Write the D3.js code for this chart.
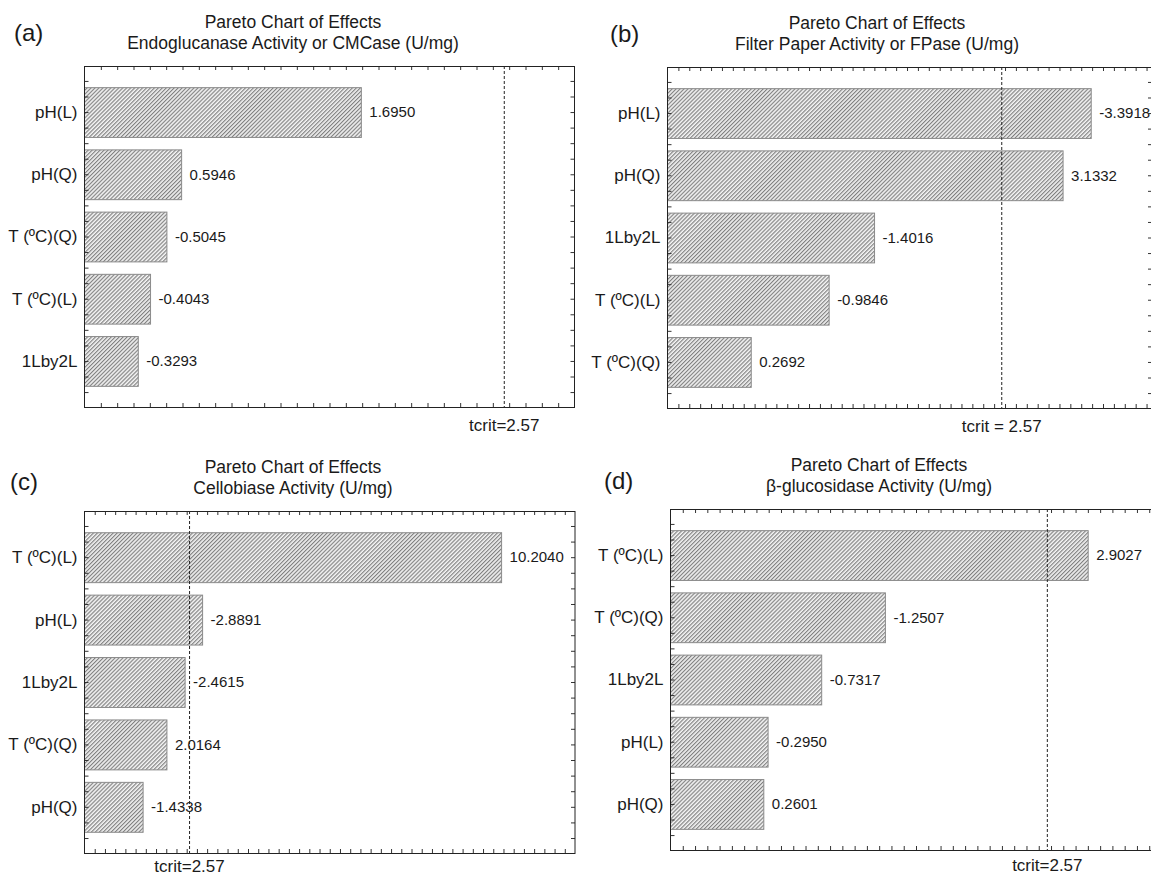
<!DOCTYPE html>
<html>
<head>
<meta charset="utf-8">
<script src="https://cdn.jsdelivr.net/npm/d3@7"></script>
<style>
  html, body { margin: 0; padding: 0; background: #fff; }
  svg { display: block; font-family: Arial, "Liberation Sans", sans-serif; }
</style>
</head>
<body>
<svg id="chart" width="1151" height="875"></svg>
<script>
// ---------------- DATA ----------------
const panelTags = ["(a)", "(b)", "(c)", "(d)"];
const titleLine1 = ["Pareto Chart of Effects", "Pareto Chart of Effects", "Pareto Chart of Effects", "Pareto Chart of Effects"];
const titleLine2 = [
  "Endoglucanase Activity or CMCase (U/mg)",
  "Filter Paper Activity or FPase (U/mg)",
  "Cellobiase Activity (U/mg)",
  "β-glucosidase Activity (U/mg)"
];

const catsA = ["pH(L)", "pH(Q)", "T (ºC)(Q)", "T (ºC)(L)", "1Lby2L"];
const valsA = [1.6950, 0.5946, -0.5045, -0.4043, -0.3293];

const catsB = ["pH(L)", "pH(Q)", "1Lby2L", "T (ºC)(L)", "T (ºC)(Q)"];
const valsB = [-3.3918, 3.1332, -1.4016, -0.9846, 0.2692];

const catsC = ["T (ºC)(L)", "pH(L)", "1Lby2L", "T (ºC)(Q)", "pH(Q)"];
const valsC = [10.2040, -2.8891, -2.4615, 2.0164, -1.4338];

const catsD = ["T (ºC)(L)", "T (ºC)(Q)", "1Lby2L", "pH(L)", "pH(Q)"];
const valsD = [2.9027, -1.2507, -0.7317, -0.2950, 0.2601];

const tcritValues = [2.57, 2.57, 2.57, 2.57];
const tcritLabels = ["tcrit=2.57", "tcrit = 2.57", "tcrit=2.57", "tcrit=2.57"];

const xDomains = [[0, 3], [-0.5, 3.95], [0, 12], [-0.5, 3.5]];
const xTickSteps = [0.1, 0.1, 0.25, 0.1];

// ---------------- LAYOUT ----------------
const layout = [
  { x0: 84.5,  x1: 574.5,  y0: 66,  y1: 407, titleX: 293, t1Y: 28,  t2Y: 49,  tagX: 14,  tagY: 41,  tcY: 431 },
  { x0: 667.5, x1: 1152,   y0: 67,  y1: 408, titleX: 877, t1Y: 29,  t2Y: 50,  tagX: 610, tagY: 42,  tcY: 432 },
  { x0: 84.5,  x1: 575,    y0: 511, y1: 853, titleX: 293, t1Y: 473, t2Y: 494, tagX: 10,  tagY: 490, tcY: 872 },
  { x0: 670.5, x1: 1161.5, y0: 509, y1: 850, titleX: 879, t1Y: 471, t2Y: 492, tagX: 604, tagY: 489, tcY: 871 }
];

const cats = [catsA, catsB, catsC, catsD];
const vals = [valsA, valsB, valsC, valsD];

const fmt = d3.formatLocale({ decimal: ".", thousands: ",", grouping: [3], currency: ["", ""], minus: "-" }).format(".4f");

const svg = d3.select("#chart");
const defs = svg.append("defs");
const pat = defs.append("pattern")
  .attr("id", "hatch")
  .attr("patternUnits", "userSpaceOnUse")
  .attr("width", 2.8).attr("height", 2.8)
  .attr("patternTransform", "rotate(45)");
pat.append("rect").attr("width", 2.8).attr("height", 2.8).attr("fill", "#f4f4f4");
pat.append("line").attr("x1", 0.6).attr("y1", 0).attr("x2", 0.6).attr("y2", 2.8)
  .attr("stroke", "#7a7a7a").attr("stroke-width", 1.1);

const textColor = "#1a1a1a";

layout.forEach((L, i) => {
  const g = svg.append("g");
  const x = d3.scaleLinear().domain(xDomains[i]).range([L.x0, L.x1]);
  const y = d3.scaleBand().domain(cats[i]).range([L.y0, L.y1]).paddingInner(0.2).paddingOuter(0.34);

  // Titles
  g.append("text").attr("x", L.titleX).attr("y", L.t1Y).attr("text-anchor", "middle")
    .attr("font-size", 17.5).attr("fill", textColor).text(titleLine1[i]);
  g.append("text").attr("x", L.titleX).attr("y", L.t2Y).attr("text-anchor", "middle")
    .attr("font-size", 17.5).attr("fill", textColor).text(titleLine2[i]);
  g.append("text").attr("x", L.tagX).attr("y", L.tagY)
    .attr("font-size", 24).attr("fill", textColor).text(panelTags[i]);

  // Bars
  const data = cats[i].map((c, k) => ({ c, v: vals[i][k] }));
  g.selectAll("rect.bar").data(data).enter().append("rect")
    .attr("class", "bar")
    .attr("x", x(xDomains[i][0]))
    .attr("y", d => y(d.c) + 0.5)
    .attr("width", d => x(Math.abs(d.v)) - x(xDomains[i][0]))
    .attr("height", y.bandwidth())
    .attr("fill", "url(#hatch)")
    .attr("stroke", "#8a8a8a")
    .attr("stroke-width", 1);

  // Value labels
  g.selectAll("text.val").data(data).enter().append("text")
    .attr("class", "val")
    .attr("x", d => x(Math.abs(d.v)) + 8)
    .attr("y", d => y(d.c) + y.bandwidth() / 2)
    .attr("dy", "0.35em")
    .attr("font-size", 15).attr("fill", textColor)
    .text(d => fmt(d.v));

  // Category labels
  g.selectAll("text.cat").data(cats[i]).enter().append("text")
    .attr("class", "cat")
    .attr("x", L.x0 - 7)
    .attr("y", d => y(d) + y.bandwidth() / 2)
    .attr("dy", "0.35em")
    .attr("text-anchor", "end")
    .attr("font-size", 17).attr("fill", textColor)
    .text(d => d);

  // tcrit line
  g.append("line")
    .attr("x1", x(tcritValues[i])).attr("x2", x(tcritValues[i]))
    .attr("y1", L.y0).attr("y2", L.y1)
    .attr("stroke", "#222").attr("stroke-width", 1)
    .attr("stroke-dasharray", "3,2");
  g.append("text")
    .attr("x", x(tcritValues[i])).attr("y", L.tcY)
    .attr("text-anchor", "middle")
    .attr("font-size", 17).attr("fill", textColor)
    .text(tcritLabels[i]);

  // Minor tick marks (inside frame)
  const [d0, d1] = xDomains[i];
  const step = xTickSteps[i];
  const nT = Math.floor((d1 - d0) / step + 1e-6);
  const xTicks = d3.range(1, nT + 1).map(k => d0 + k * step).filter(v => v < d1 - 1e-6);
  const tickStyle = sel => {
    sel.select(".domain").remove();
    sel.selectAll(".tick line").attr("stroke", "#333");
    sel.selectAll(".tick text").remove();
  };
  g.append("g").attr("transform", `translate(0,${L.y1})`)
    .call(d3.axisBottom(x).tickValues(xTicks).tickSize(-4).tickFormat(""))
    .call(tickStyle);
  g.append("g").attr("transform", `translate(0,${L.y0})`)
    .call(d3.axisTop(x).tickValues(xTicks).tickSize(-4).tickFormat(""))
    .call(tickStyle);

  // Vertical ticks every quarter band step
  const c0 = y(cats[i][0]) + y.bandwidth() / 2;
  const yq = d3.scaleLinear().domain([0, 1]).range([c0, c0 + y.step()]);
  const kMin = Math.ceil((L.y0 + 3 - c0) / (y.step() / 4));
  const kMax = Math.floor((L.y1 - 3 - c0) / (y.step() / 4));
  const yTicks = d3.range(kMin, kMax + 1).map(k => k / 4);
  g.append("g").attr("transform", `translate(${L.x0},0)`)
    .call(d3.axisLeft(yq).tickValues(yTicks).tickSize(-4).tickFormat(""))
    .call(tickStyle);
  g.append("g").attr("transform", `translate(${L.x1},0)`)
    .call(d3.axisRight(yq).tickValues(yTicks).tickSize(-4).tickFormat(""))
    .call(tickStyle);

  // Frame
  g.append("rect")
    .attr("x", L.x0).attr("y", L.y0 + 0.5)
    .attr("width", L.x1 - L.x0).attr("height", L.y1 - L.y0)
    .attr("fill", "none").attr("stroke", "#222").attr("stroke-width", 1);
});
</script>
</body>
</html>
